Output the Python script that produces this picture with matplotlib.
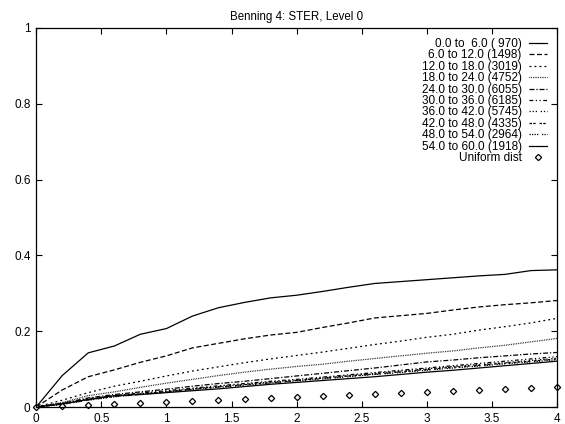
import numpy as np
import matplotlib.pyplot as plt

plt.rcParams['font.family'] = ['Liberation Sans', 'DejaVu Sans']

# time axis and cumulative fractions per range
x = [0.0, 0.2, 0.4, 0.6, 0.8, 1.0, 1.2, 1.4, 1.6, 1.8, 2.0,
     2.2, 2.4, 2.6, 2.8, 3.0, 3.2, 3.4, 3.6, 3.8, 4.0]

s1 = [0, 0.083, 0.143, 0.161, 0.192, 0.207, 0.240, 0.262, 0.276, 0.288, 0.295,
      0.305, 0.316, 0.326, 0.331, 0.336, 0.341, 0.346, 0.350, 0.360, 0.362]
s2 = [0, 0.045, 0.080, 0.098, 0.118, 0.135, 0.156, 0.168, 0.180, 0.190, 0.197,
      0.210, 0.222, 0.235, 0.241, 0.247, 0.256, 0.264, 0.270, 0.275, 0.281]
s3 = [0, 0.018, 0.038, 0.055, 0.068, 0.082, 0.095, 0.106, 0.117, 0.127, 0.136,
      0.145, 0.155, 0.165, 0.174, 0.184, 0.192, 0.203, 0.212, 0.222, 0.234]
s4 = [0, 0.012, 0.030, 0.040, 0.052, 0.063, 0.073, 0.083, 0.092, 0.100, 0.107,
      0.113, 0.121, 0.128, 0.135, 0.142, 0.148, 0.156, 0.163, 0.172, 0.181]
s5 = [0, 0.010, 0.024, 0.033, 0.040, 0.047, 0.055, 0.062, 0.068, 0.075, 0.082,
      0.089, 0.096, 0.103, 0.111, 0.119, 0.124, 0.130, 0.135, 0.140, 0.144]
s6 = [0, 0.009, 0.022, 0.030, 0.037, 0.043, 0.050, 0.056, 0.062, 0.068, 0.073,
      0.079, 0.085, 0.091, 0.097, 0.103, 0.109, 0.115, 0.121, 0.127, 0.133]
s7 = [0, 0.008, 0.020, 0.029, 0.035, 0.041, 0.048, 0.054, 0.060, 0.066, 0.071,
      0.077, 0.083, 0.089, 0.095, 0.101, 0.107, 0.112, 0.117, 0.123, 0.129]
s8 = [0, 0.008, 0.019, 0.028, 0.034, 0.040, 0.047, 0.053, 0.059, 0.064, 0.070,
      0.076, 0.082, 0.087, 0.093, 0.099, 0.105, 0.110, 0.116, 0.121, 0.127]
s9 = [0, 0.007, 0.018, 0.027, 0.033, 0.039, 0.046, 0.052, 0.057, 0.063, 0.069,
      0.074, 0.080, 0.086, 0.091, 0.097, 0.103, 0.108, 0.114, 0.119, 0.125]
s10 = [0, 0.008, 0.020, 0.030, 0.033, 0.038, 0.043, 0.048, 0.054, 0.060, 0.065,
       0.070, 0.075, 0.080, 0.086, 0.092, 0.097, 0.103, 0.109, 0.115, 0.121]
uniform = [0, 0.003, 0.006, 0.009, 0.011, 0.014, 0.016, 0.019, 0.022, 0.024, 0.027,
           0.030, 0.032, 0.035, 0.038, 0.040, 0.043, 0.046, 0.048, 0.051, 0.054]

labels = ['0.0 to  6.0 ( 970)', '6.0 to 12.0 (1498)', '12.0 to 18.0 (3019)',
          '18.0 to 24.0 (4752)', '24.0 to 30.0 (6055)', '30.0 to 36.0 (6185)',
          '36.0 to 42.0 (5745)', '42.0 to 48.0 (4335)', '48.0 to 54.0 (2964)',
          '54.0 to 60.0 (1918)']
series = [s1, s2, s3, s4, s5, s6, s7, s8, s9, s10]

# gnuplot-ish dash patterns
dashes = [None, (4, 2), (1.5, 2.5), (0.6, 0.8), (4, 1.5, 1, 1.5),
          (3, 2, 1, 2, 1, 2), (1, 1.5, 1, 1.5, 1, 3), (2, 1, 2, 3),
          (1, 1, 1, 1, 1, 1, 1, 3), None]

fig = plt.figure(figsize=(5.65, 4.24), dpi=100)
ax = fig.add_axes([0.064, 0.040, 0.922, 0.894])

for ys, lab, d in zip(series, labels, dashes):
    line, = ax.plot(x, ys, color='black', lw=0.9, label=lab)
    if d is not None:
        line.set_dashes(d)

ax.plot(x, uniform, ls='none', marker='D', markersize=3.2, mfc='white',
        mec='black', mew=0.9, label='Uniform dist', clip_on=False)

ax.set_xlim(0, 4)
ax.set_ylim(0, 1)
ax.set_xticks([0, 0.5, 1, 1.5, 2, 2.5, 3, 3.5, 4])
ax.set_xticklabels(['0', '0.5', '1', '1.5', '2', '2.5', '3', '3.5', '4'])
ax.set_yticks([0, 0.2, 0.4, 0.6, 0.8, 1])
ax.set_yticklabels(['0', '0.2', '0.4', '0.6', '0.8', '1'])
ax.tick_params(direction='in', top=True, right=True, length=4, width=0.8,
               labelsize=8.5, pad=4)
for sp in ax.spines.values():
    sp.set_linewidth(0.9)

ax.set_title('Benning 4: STER, Level 0', fontsize=8.3, pad=5.5)

ax.legend(loc='upper right', frameon=False, markerfirst=False, fontsize=8.5,
          handlelength=1.55, labelspacing=-0.05, handletextpad=0.6,
          borderaxespad=0.45)

plt.savefig('out.png', dpi=100)
